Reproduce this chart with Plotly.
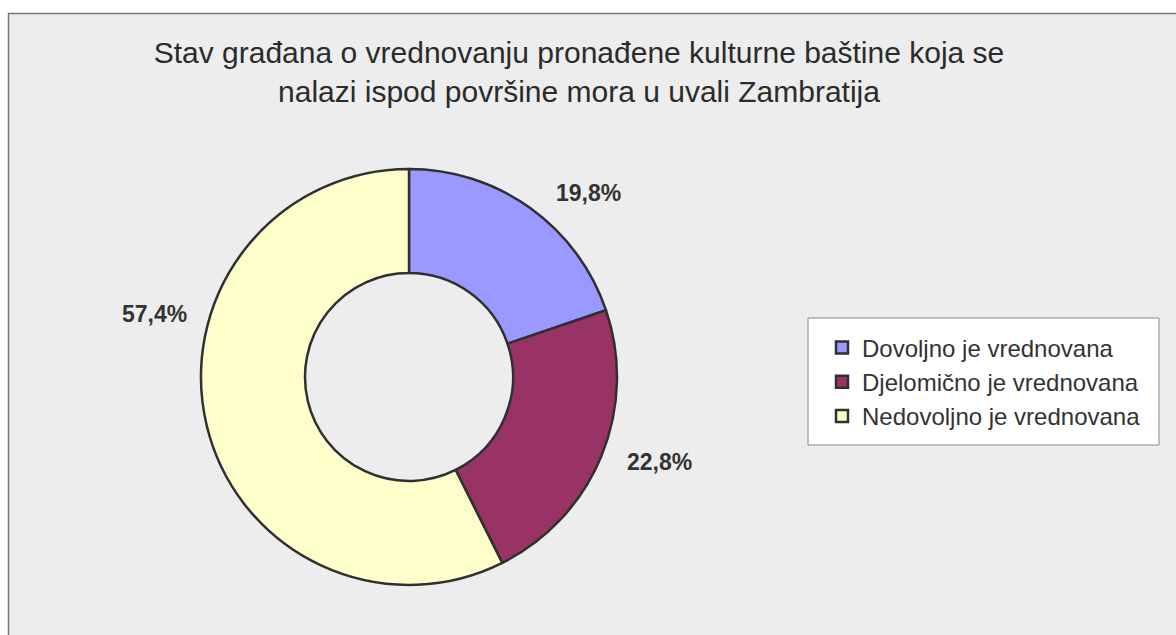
import plotly.graph_objects as go

categories = ["Dovoljno je vrednovana", "Djelomično je vrednovana", "Nedovoljno je vrednovana"]
values = [19.8, 22.8, 57.4]
colors = ["#9999FF", "#993366", "#FFFFCC"]
label_texts = ["19,8%", "22,8%", "57,4%"]
title_text = "Stav građana o vrednovanju pronađene kulturne baštine koja se<br>nalazi ispod površine mora u uvali Zambratija"

W, H = 1176, 635
SANS = "Liberation Sans, Arial, sans-serif"

fig = go.Figure()
fig.add_trace(go.Pie(
    labels=categories,
    values=values,
    hole=0.5,
    sort=False,
    direction="clockwise",
    rotation=0,
    marker=dict(colors=colors, line=dict(color="#303030", width=2.5)),
    textinfo="none",
    hoverinfo="label+percent",
    domain=dict(x=[201 / W, 617 / W], y=[1 - 585 / H, 1 - 169 / H]),
))

# data labels (positions in paper fraction)
label_pos = [(588, 193), (659, 462), (154, 314)]
for t, (px, py) in zip(label_texts, label_pos):
    fig.add_annotation(
        x=px / W, y=1 - py / H, xref="paper", yref="paper",
        text=t, showarrow=False, xanchor="center", yanchor="middle",
        font=dict(family=SANS, size=23, color="#333333", weight="bold"),
    )

fig.update_layout(
    width=W, height=H,
    margin=dict(l=0, r=0, t=0, b=0),
    paper_bgcolor="white",
    plot_bgcolor="white",
    title=dict(
        text=title_text,
        x=579 / W, xanchor="center",
        y=1 - 63 / H, yanchor="top",
        font=dict(family=SANS, size=30, color="#2b2b2b"),
    ),
    legend=dict(
        x=822 / W, y=1 - 382 / H, xanchor="left", yanchor="middle",
        bgcolor="rgba(0,0,0,0)", borderwidth=0,
        font=dict(family=SANS, size=24, color="#333333"),
    ),
    shapes=[
        dict(
            type="rect", xref="paper", yref="paper",
            x0=8.5 / W, x1=1.02, y0=-0.02, y1=1 - 13.5 / H,
            fillcolor="#EDEDED", line=dict(color="#777777", width=1.5),
            layer="below",
        ),
        dict(
            type="rect", xref="paper", yref="paper",
            x0=808 / W, x1=1159 / W, y0=1 - 445 / H, y1=1 - 318 / H,
            fillcolor="white", line=dict(color="#888888", width=1),
            layer="below",
        ),
    ],
)

fig.write_html("out.html", config={"displayModeBar": False},
               post_script="document.body.style.margin='0';")
